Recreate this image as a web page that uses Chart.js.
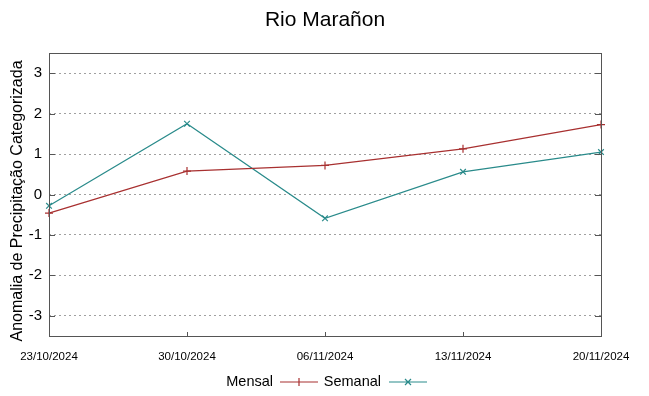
<!DOCTYPE html>
<html>
<head>
<meta charset="utf-8">
<script src="https://cdn.jsdelivr.net/npm/chart.js@4/dist/chart.umd.min.js"></script>
<style>
  html, body { margin: 0; padding: 0; background: #fff; }
  #wrap { width: 649px; height: 396px; }
</style>
</head>
<body>
<div id="wrap"><canvas id="chart" width="649" height="396"></canvas></div>
<script>
// data
var titleText = 'Rio Marañon';
var yLabel = 'Anomalia de Precipitação Categorizada';
var dates = ['23/10/2024', '30/10/2024', '06/11/2024', '13/11/2024', '20/11/2024'];
var mensal = [-0.46, 0.58, 0.72, 1.13, 1.73];
var semanal = [-0.28, 1.75, -0.59, 0.56, 1.05];
var yTicks = [-3, -2, -1, 0, 1, 2, 3];

var redCol = '#a83030';
var tealCol = '#2a8b8b';
var font = '"Liberation Sans", Arial, sans-serif';

// plot box in gnuplot style: border, inward ticks, titles, legend
var gnuplotFrame = {
    id: 'gnuplotFrame',
    afterDraw: function(chart) {
        var ctx = chart.ctx;
        var a = chart.chartArea;
        var x = chart.scales.x, y = chart.scales.y;
        ctx.save();
        ctx.strokeStyle = '#555';
        ctx.lineWidth = 1;
        ctx.strokeRect(Math.round(a.left) + 0.5, Math.round(a.top) + 0.5,
                       Math.round(a.right - a.left), Math.round(a.bottom - a.top));
        ctx.beginPath();
        yTicks.forEach(function(v) {
            var py = Math.round(y.getPixelForValue(v)) + 0.5;
            ctx.moveTo(a.left, py); ctx.lineTo(a.left + 6, py);
            ctx.moveTo(a.right, py); ctx.lineTo(a.right - 6, py);
        });
        dates.forEach(function(d, i) {
            var px = Math.round(x.getPixelForValue(i)) + 0.5;
            ctx.moveTo(px, a.bottom); ctx.lineTo(px, a.bottom - 4);
        });
        ctx.stroke();

        // title
        ctx.fillStyle = '#000';
        ctx.font = '21px ' + font;
        ctx.textAlign = 'center';
        ctx.textBaseline = 'middle';
        ctx.fillText(titleText, (a.left + a.right) / 2, 20);

        // y axis title
        ctx.save();
        ctx.translate(18, 201);
        ctx.rotate(-Math.PI / 2);
        ctx.font = '16px ' + font;
        ctx.fillText(yLabel, 0, 0);
        ctx.restore();

        // legend
        ctx.font = '14.5px ' + font;
        ctx.textAlign = 'right';
        var ly = 382;
        ctx.fillText('Mensal', 273, ly);
        ctx.fillText('Semanal', 381, ly);
        ctx.lineWidth = 1.2;
        ctx.strokeStyle = redCol;
        ctx.beginPath();
        ctx.moveTo(280, ly); ctx.lineTo(318, ly);
        ctx.moveTo(299, ly - 4); ctx.lineTo(299, ly + 4);
        ctx.moveTo(295, ly); ctx.lineTo(303, ly);
        ctx.stroke();
        ctx.strokeStyle = tealCol;
        ctx.beginPath();
        ctx.moveTo(389, ly); ctx.lineTo(427, ly);
        ctx.moveTo(405, ly - 3); ctx.lineTo(411, ly + 3);
        ctx.moveTo(405, ly + 3); ctx.lineTo(411, ly - 3);
        ctx.stroke();
        ctx.restore();
    }
};

var config = {
    type: 'line',
    data: {
        labels: dates,
        datasets: [{
            label: 'Mensal',
            data: mensal,
            borderColor: redCol,
            backgroundColor: redCol,
            borderWidth: 1.2,
            pointStyle: 'cross',
            pointRadius: 4,
            pointBorderWidth: 1.2,
            tension: 0
        }, {
            label: 'Semanal',
            data: semanal,
            borderColor: tealCol,
            backgroundColor: tealCol,
            borderWidth: 1.2,
            pointStyle: 'crossRot',
            pointRadius: 4,
            pointBorderWidth: 1.2,
            tension: 0
        }]
    },
    options: {
        responsive: false,
        animation: false,
        layout: { padding: { top: 53, right: 48, left: 0, bottom: 0 } },
        plugins: {
            legend: { display: false },
            title: { display: false },
            tooltip: { enabled: false }
        },
        scales: {
            x: {
                offset: false,
                grid: { display: false, drawTicks: false },
                border: { display: false },
                ticks: {
                    color: '#000',
                    maxRotation: 0,
                    autoSkip: false,
                    padding: 14,
                    font: { family: font, size: 11.5 }
                },
                afterFit: function(s) { s.height = 60; }
            },
            y: {
                min: -3.5,
                max: 3.5,
                afterBuildTicks: function(s) {
                    s.ticks = yTicks.map(function(v) { return { value: v }; });
                },
                grid: {
                    color: '#a0a0a0',
                    lineWidth: 1,
                    drawTicks: false
                },
                border: { display: false, dash: [2, 3] },
                ticks: {
                    color: '#000',
                    padding: 7,
                    font: { family: font, size: 15 }
                },
                afterFit: function(s) { s.width = 49; }
            }
        }
    },
    plugins: [gnuplotFrame]
};

var ctx = document.getElementById('chart').getContext('2d');
window.rioChart = new Chart(ctx, config);
</script>
</body>
</html>
